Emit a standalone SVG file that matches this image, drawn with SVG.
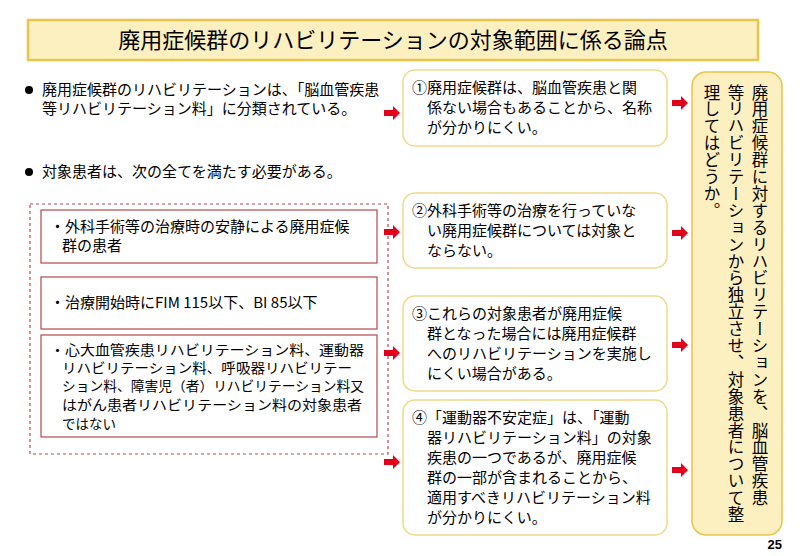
<svg xmlns="http://www.w3.org/2000/svg" width="800" height="556" viewBox="0 0 800 556">
<style>
text{font-family:"Noto Sans CJK JP","Liberation Sans",sans-serif;fill:#000}
.t{font-size:15px}
.s{font-size:13.5px}
.rb{fill:#fff;stroke:#f0d98a;stroke-width:1.5}
.lb{fill:#fff;stroke:#b5484a;stroke-width:1.2}
.v{font-size:16.5px;writing-mode:tb;letter-spacing:0.4px}
</style>
<defs>
<path id="ar" d="M0,-3 H9 V-7 L16,0 L9,7 V3 H0 Z" fill="#e3001b"/>
</defs>
<g id="title">
<rect x="28" y="20" width="730" height="40" fill="#fcefc0" stroke="#e8c44a" stroke-width="2.5"/>
<text x="393" y="48" font-size="22" text-anchor="middle">廃用症候群のリハビリテーションの対象範囲に係る論点</text>
</g>
<g id="bullets">
<circle cx="29" cy="90" r="4"/>
<text class="t" x="42" y="95">廃用症候群のリハビリテーションは、「脳血管疾患</text>
<text class="t" x="42" y="114">等リハビリテーション料」に分類されている。</text>
<circle cx="29" cy="172" r="4"/>
<text class="t" x="42" y="177">対象患者は、次の全てを満たす必要がある。</text>
</g>
<g id="conditions">
<rect x="30" y="204" width="358" height="250" fill="none" stroke="#b5484a" stroke-width="1.2" stroke-dasharray="3,3"/>
<rect class="lb" x="41" y="210" width="336" height="53"/>
<text class="t" x="50" y="232">・外科手術等の治療時の安静による廃用症候</text>
<text class="t" x="62" y="251">群の患者</text>
<rect class="lb" x="41" y="277" width="336" height="52"/>
<text class="t" x="50" y="308">・治療開始時にFIM 115以下、BI 85以下</text>
<rect class="lb" x="41" y="335" width="336" height="102"/>
<text class="s" x="50" y="355" textLength="314" lengthAdjust="spacingAndGlyphs">・心大血管疾患リハビリテーション料、運動器</text>
<text class="s" x="62" y="373" textLength="290" lengthAdjust="spacingAndGlyphs">リハビリテーション料、呼吸器リハビリテー</text>
<text class="s" x="62" y="391" textLength="302" lengthAdjust="spacingAndGlyphs">ション料、障害児（者）リハビリテーション料又</text>
<text class="s" x="62" y="410" textLength="300" lengthAdjust="spacingAndGlyphs">はがん患者リハビリテーション料の対象患者</text>
<text class="s" x="62" y="429">ではない</text>
</g>
<g id="issue1">
<rect class="rb" x="403" y="70" width="264" height="76" rx="12"/>
<text class="t" x="412" y="93">①廃用症候群は、脳血管疾患と関</text>
<text class="t" x="427" y="113">係ない場合もあることから、名称</text>
<text class="t" x="427" y="133">が分かりにくい。</text>
</g>
<g id="issue2">
<rect class="rb" x="403" y="193" width="264" height="75" rx="12"/>
<text class="t" x="412" y="216">②外科手術等の治療を行っていな</text>
<text class="t" x="427" y="236">い廃用症候群については対象と</text>
<text class="t" x="427" y="256">ならない。</text>
</g>
<g id="issue3">
<rect class="rb" x="403" y="296" width="264" height="95" rx="12"/>
<text class="t" x="412" y="319">③これらの対象患者が廃用症候</text>
<text class="t" x="427" y="339">群となった場合には廃用症候群</text>
<text class="t" x="427" y="359">へのリハビリテーションを実施し</text>
<text class="t" x="427" y="379">にくい場合がある。</text>
</g>
<g id="issue4">
<rect class="rb" x="403" y="400" width="264" height="135" rx="12"/>
<text class="t" x="412" y="423">④「運動器不安定症」は、「運動</text>
<text class="t" x="427" y="443">器リハビリテーション料」の対象</text>
<text class="t" x="427" y="463">疾患の一つであるが、廃用症候</text>
<text class="t" x="427" y="483">群の一部が含まれることから、</text>
<text class="t" x="427" y="503">適用すべきリハビリテーション料</text>
<text class="t" x="427" y="523">が分かりにくい。</text>
</g>
<g id="proposal">
<rect x="692" y="72" width="90" height="463" rx="14" fill="#fcefc0" stroke="#e8c44a" stroke-width="1.5"/>
<text class="v" x="760" y="84">廃用症候群に対するリハビリテーションを、脳血管疾患</text>
<text class="v" x="736" y="84">等リハビリテーションから独立させ、対象患者について整</text>
<text class="v" x="712" y="84">理してはどうか。</text>
</g>
<g id="connectors">
<use href="#ar" x="384" y="113"/>
<use href="#ar" x="384" y="232"/>
<use href="#ar" x="384" y="353"/>
<use href="#ar" x="384" y="462"/>
<use href="#ar" x="672" y="103"/>
<use href="#ar" x="672" y="233"/>
<use href="#ar" x="672" y="345"/>
<use href="#ar" x="672" y="470"/>
</g>
<text x="782" y="549" font-size="13" font-weight="bold" text-anchor="end" style="font-family:'Liberation Sans',sans-serif">25</text>
</svg>
